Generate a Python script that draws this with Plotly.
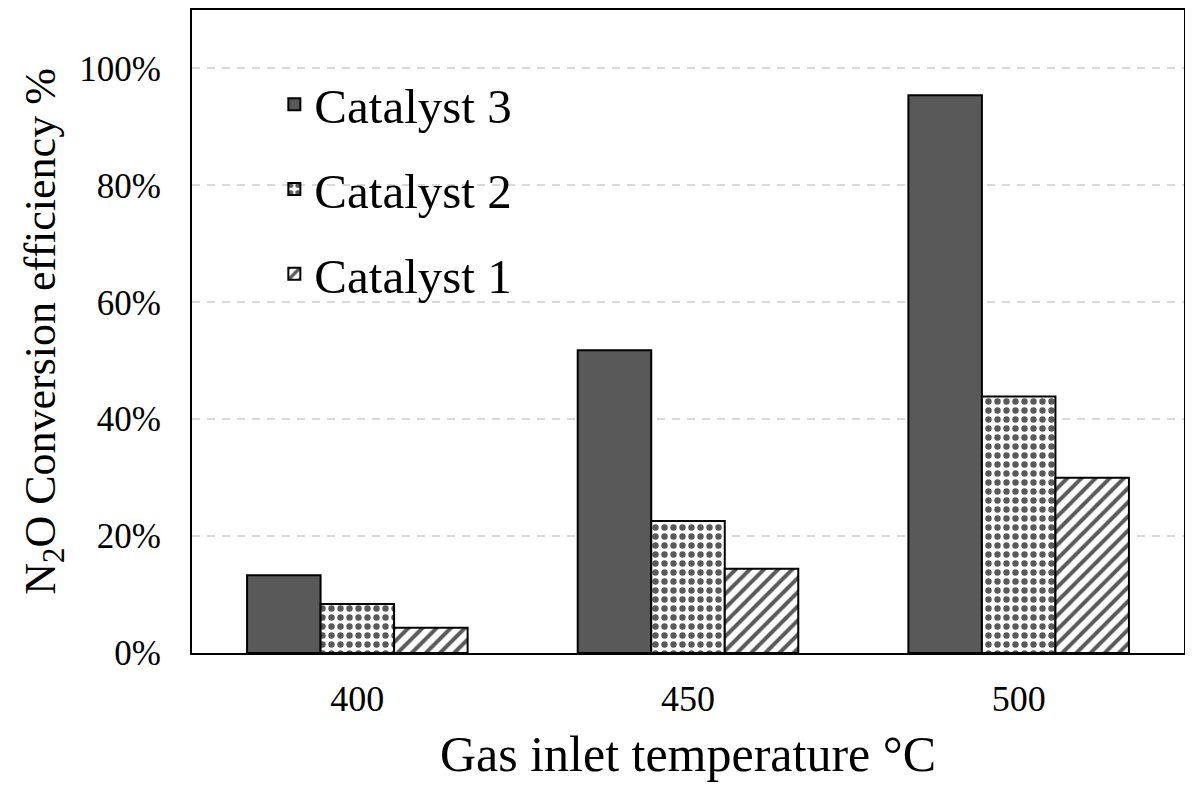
import plotly.graph_objects as go

# gas inlet temperature (°C)
temperatures = ["400", "450", "500"]

# N2O conversion efficiency (fraction)
catalyst_3 = [0.133, 0.518, 0.954]
catalyst_2 = [0.084, 0.226, 0.439]
catalyst_1 = [0.043, 0.144, 0.300]

series_names = ["Catalyst 3", "Catalyst 2", "Catalyst 1"]
y_ticks = [0, 0.2, 0.4, 0.6, 0.8, 1.0]

DARK = "#595959"
FONT = "Liberation Serif, Times New Roman, serif"

fig = go.Figure()

fig.add_trace(go.Bar(
    x=temperatures, y=catalyst_3, name=series_names[0], legendgroup="c3",
    marker=dict(color=DARK, line=dict(color="black", width=2)),
))
fig.add_trace(go.Bar(
    x=temperatures, y=catalyst_2, name=series_names[1], legendgroup="c2",
    marker=dict(color="white", line=dict(color="black", width=2),
                pattern=dict(shape=".", fgcolor=DARK, bgcolor="white",
                             size=9, solidity=0.4, fillmode="replace")),
))
fig.add_trace(go.Bar(
    x=temperatures, y=catalyst_1, name=series_names[2], legendgroup="c1",
    marker=dict(color="white", line=dict(color="black", width=2),
                pattern=dict(shape="/", fgcolor=DARK, bgcolor="white",
                             size=10, solidity=0.4, fillmode="replace")),
))

# the page body adds an 8px margin, so the figure is sized to fit inside it
fig.update_layout(
    width=1177, height=774,
    margin=dict(l=184, r=1, t=2, b=129),
    plot_bgcolor="white", paper_bgcolor="white",
    font=dict(family=FONT, color="black"),
    barmode="group", bargap=0.333, bargroupgap=0,
    showlegend=True,
    legend=dict(x=0.083, y=0.913, xanchor="left", yanchor="top",
                bgcolor="rgba(0,0,0,0)", font=dict(size=49, family=FONT),
                traceorder="grouped", tracegroupgap=18, itemwidth=30),
    xaxis=dict(
        showline=True, linecolor="black", linewidth=2, mirror=True,
        ticks="", tickfont=dict(size=36), ticklabelstandoff=13,
        title=dict(text="Gas inlet temperature °C", font=dict(size=50), standoff=52),
        automargin=False,
    ),
    yaxis=dict(
        range=[0, 1.1], tickvals=y_ticks, tickformat=".0%",
        showline=True, linecolor="black", linewidth=2, mirror=True,
        ticks="", tickfont=dict(size=35), ticklabelstandoff=22,
        showgrid=True, gridcolor="#d9d9d9", gridwidth=2, griddash="8px,7px",
        zeroline=False,
        title=dict(text="N<sub>2</sub>O Conversion efficiency %", font=dict(size=44), standoff=10),
        automargin=False,
    ),
)

fig.write_html("out.html")
